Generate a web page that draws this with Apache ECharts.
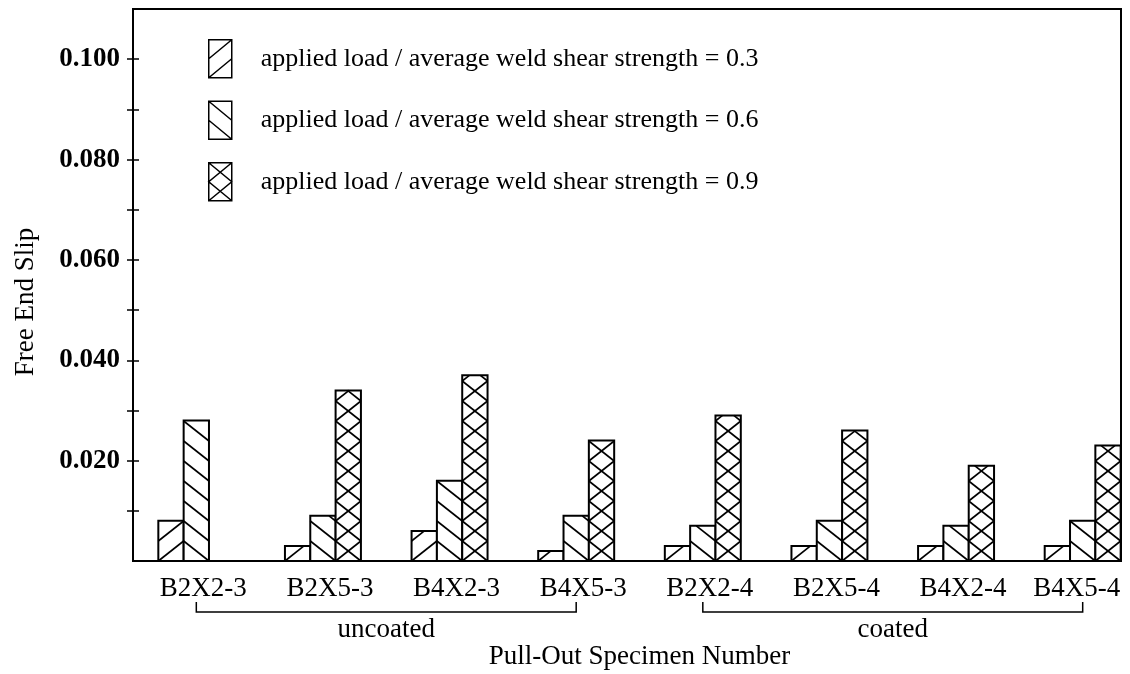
<!DOCTYPE html>
<html>
<head>
<meta charset="utf-8">
<script src="https://cdn.jsdelivr.net/npm/echarts@6/dist/echarts.min.js"></script>
<style>
  html, body { margin: 0; padding: 0; background: #fff; }
  #chart { width: 1130px; height: 674px; }
</style>
</head>
<body>
<div id="chart"></div>
<script>
// Pull-out specimens and measured free end slip for each load ratio
const specimens = ['B2X2-3', 'B2X5-3', 'B4X2-3', 'B4X5-3', 'B2X2-4', 'B2X5-4', 'B4X2-4', 'B4X5-4'];
const slipRatio03 = [0.008, 0.003, 0.006, 0.002, 0.003, 0.003, 0.003, 0.003];
const slipRatio06 = [0.028, 0.009, 0.016, 0.009, 0.007, 0.008, 0.007, 0.008];
const slipRatio09 = [null, 0.034, 0.037, 0.024, 0.029, 0.026, 0.019, 0.023];
const seriesNames = [
  'applied load / average weld shear strength = 0.3',
  'applied load / average weld shear strength = 0.6',
  'applied load / average weld shear strength = 0.9'
];
const yTickValues = [0.01, 0.02, 0.03, 0.04, 0.05, 0.06, 0.07, 0.08, 0.09, 0.1];
const yLabelValues = [0.02, 0.04, 0.06, 0.08, 0.1];
const coatingGroups = [
  { label: 'uncoated', from: 'B2X2-3', to: 'B4X5-3' },
  { label: 'coated', from: 'B2X2-4', to: 'B4X5-4' }
];

const FONT = "'Liberation Serif', 'Times New Roman', serif";
const HATCH_PITCH = 20;   // vertical pitch of hatch lines in px

// Hatch segments inside a bar, anchored at the bar bottom.
// dir = 1 draws '/', dir = -1 draws '\'
function hatchSegments(L, R, T, B, dir) {
  const W = R - L;
  const segs = [];
  for (let k = 0; B - k * HATCH_PITCH > T + 0.5; k++) {
    let yl, yr;
    if (dir > 0) { yl = B - k * HATCH_PITCH; yr = yl - HATCH_PITCH; }
    else { yr = B - k * HATCH_PITCH; yl = yr - HATCH_PITCH; }
    let x1 = L, y1 = yl, x2 = R, y2 = yr;
    if (y1 < T) { x1 = L + (T - yl) / (yr - yl) * W; y1 = T; }
    if (y2 < T) { x2 = L + (T - yl) / (yr - yl) * W; y2 = T; }
    segs.push({ x1, y1, x2, y2 });
  }
  return segs;
}

function makeBarRenderer(slot, dirs) {
  return function (params, api) {
    const v = api.value(1);
    if (v == null || isNaN(v)) return null;
    const idx = api.value(0);
    const band = api.size([1, 0])[0];
    const w = band * 0.2;
    const base = api.coord([idx, 0]);
    const top = api.coord([idx, v]);
    const L = base[0] - 1.5 * w + slot * w;
    const R = L + w;
    const T = top[1];
    const B = base[1];
    const children = [{
      type: 'rect',
      shape: { x: L, y: T, width: w, height: B - T },
      style: { fill: '#fff', stroke: null }
    }];
    dirs.forEach(function (d) {
      hatchSegments(L, R, T, B, d).forEach(function (s) {
        children.push({ type: 'line', shape: s, style: { stroke: '#000', lineWidth: 1.6 } });
      });
    });
    children.push({
      type: 'rect',
      shape: { x: L, y: T, width: w, height: B - T },
      style: { fill: null, stroke: '#000', lineWidth: 2 }
    });
    return { type: 'group', children: children };
  };
}

const legendIcons = [
  'path://M0,0H23V38H0Z M0,38L23,19 M0,19L23,0',
  'path://M0,0H23V38H0Z M0,0L23,19 M0,19L23,38',
  'path://M0,0H23V38H0Z M0,0L23,19L0,38 M23,0L0,19L23,38'
];

const chart = echarts.init(document.getElementById('chart'), null, { renderer: 'canvas' });

const valueAxisCommon = {
  type: 'value',
  min: 0,
  max: 0.11,
  interval: 0.01,
  splitLine: { show: false },
  axisLine: { show: false }
};

chart.setOption({
  backgroundColor: '#fff',
  animation: false,
  textStyle: { fontFamily: FONT, color: '#000' },
  grid: [
    { left: 133, top: 9, width: 988, height: 552, show: true, borderColor: '#000', borderWidth: 2,
      backgroundColor: 'transparent', containLabel: false, outerBoundsMode: 'none' },
    { left: 133, top: 9, width: 1013, height: 552, show: false, containLabel: false, outerBoundsMode: 'none' }
  ],
  xAxis: [
    { gridIndex: 0, type: 'value', min: 0, max: 1, show: false },
    {
      gridIndex: 1,
      type: 'category',
      data: specimens.map(function (s, i) {
        return i === specimens.length - 1
          ? { value: s, textStyle: { padding: [0, 12, 0, 0] } }
          : { value: s, textStyle: { padding: [0, 0, 0, 14] } };
      }),
      axisLine: { show: false },
      axisTick: { show: false },
      axisLabel: { interval: 0, margin: 14, fontSize: 27, fontFamily: FONT, color: '#000' },
      name: 'Pull-Out Specimen Number',
      nameLocation: 'middle',
      nameGap: 82,
      nameTextStyle: { fontSize: 27, fontFamily: FONT, color: '#000' }
    }
  ],
  yAxis: [
    Object.assign({}, valueAxisCommon, {
      gridIndex: 0,
      axisTick: { show: true, inside: false, length: 6, customValues: yTickValues,
        lineStyle: { color: '#000', width: 1.5 } },
      axisLabel: {
        margin: 13, fontSize: 27, fontWeight: 'bold', fontFamily: FONT, color: '#000',
        customValues: yLabelValues,
        formatter: function (v) { return v.toFixed(3); }
      },
      name: 'Free End Slip',
      nameLocation: 'middle',
      nameGap: 94,
      nameTextStyle: { fontSize: 27, fontFamily: FONT, color: '#000', padding: [0, 34, 0, 0] }
    }),
    Object.assign({}, valueAxisCommon, {
      gridIndex: 1,
      axisTick: { show: true, inside: true, length: 6, customValues: yTickValues,
        lineStyle: { color: '#000', width: 1.5 } },
      axisLabel: { show: false }
    })
  ],
  legend: {
    orient: 'vertical',
    left: 208,
    top: 39,
    padding: 0,
    itemWidth: 23,
    itemHeight: 38,
    itemGap: 22,
    selectedMode: false,
    itemStyle: { color: '#fff', borderColor: '#000', borderWidth: 1.5 },
    textStyle: { fontSize: 26, fontFamily: FONT, color: '#000', padding: [0, 0, 0, 24] },
    data: seriesNames.map(function (n, i) { return { name: n, icon: legendIcons[i] }; })
  },
  series: [
    { type: 'custom', name: seriesNames[0], xAxisIndex: 1, yAxisIndex: 1,
      itemStyle: { color: '#fff' },
      renderItem: makeBarRenderer(0, [1]),
      encode: { x: 0, y: 1 },
      data: slipRatio03.map(function (v, i) { return [i, v]; }) },
    { type: 'custom', name: seriesNames[1], xAxisIndex: 1, yAxisIndex: 1,
      itemStyle: { color: '#fff' },
      renderItem: makeBarRenderer(1, [-1]),
      encode: { x: 0, y: 1 },
      data: slipRatio06.map(function (v, i) { return [i, v]; }) },
    { type: 'custom', name: seriesNames[2], xAxisIndex: 1, yAxisIndex: 1,
      itemStyle: { color: '#fff' },
      renderItem: makeBarRenderer(2, [1, -1]),
      encode: { x: 0, y: 1 },
      data: slipRatio09.map(function (v, i) { return [i, v]; }) }
  ]
});

// Brackets under the category labels grouping the coating condition
const baseY = chart.convertToPixel({ yAxisIndex: 1 }, 0);
const bracketGraphics = [];
coatingGroups.forEach(function (g) {
  const x1 = chart.convertToPixel({ xAxisIndex: 1 }, g.from);
  const x2 = chart.convertToPixel({ xAxisIndex: 1 }, g.to);
  bracketGraphics.push({
    type: 'polyline',
    shape: { points: [[x1, baseY + 41], [x1, baseY + 51], [x2, baseY + 51], [x2, baseY + 41]] },
    style: { stroke: '#000', lineWidth: 1.5, fill: null }
  });
  bracketGraphics.push({
    type: 'text',
    x: (x1 + x2) / 2,
    y: baseY + 69,
    style: { text: g.label, fontSize: 27, fontFamily: FONT, fill: '#000', align: 'center', verticalAlign: 'middle' }
  });
});
chart.setOption({ graphic: bracketGraphics });
</script>
</body>
</html>
